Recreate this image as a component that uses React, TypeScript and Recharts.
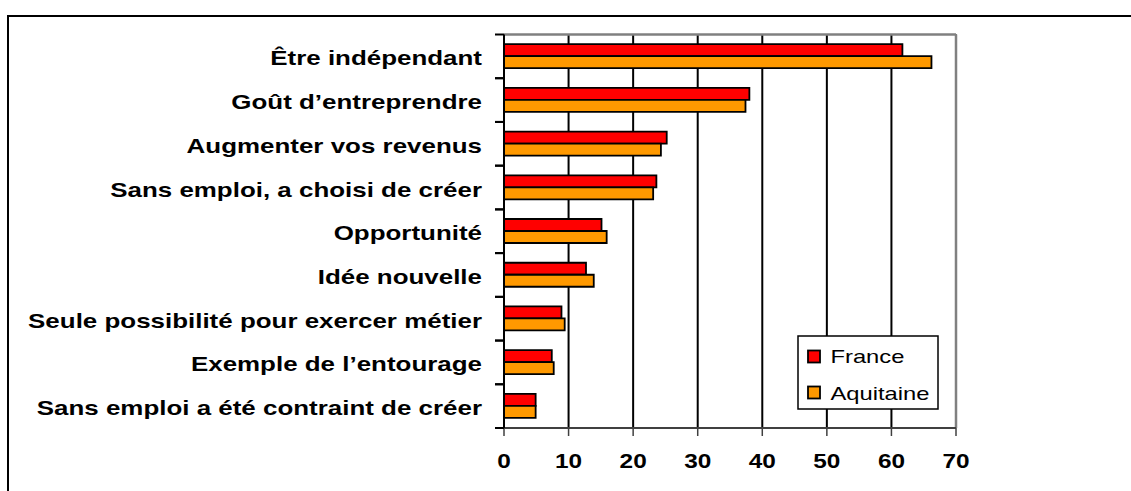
import React from 'react';
import { BarChart, Bar, XAxis, YAxis, CartesianGrid, Legend } from 'recharts';

const categories = [
  'Être indépendant',
  'Goût d’entreprendre',
  'Augmenter vos revenus',
  'Sans emploi, a choisi de créer',
  'Opportunité',
  'Idée nouvelle',
  'Seule possibilité pour exercer métier',
  'Exemple de l’entourage',
  'Sans emploi a été contraint de créer',
];
const franceValues = [61.7, 38, 25.2, 23.6, 15.1, 12.7, 8.9, 7.4, 4.9];
const aquitaineValues = [66.2, 37.4, 24.3, 23.1, 15.9, 13.9, 9.4, 7.7, 4.9];
const xTicks = [0, 10, 20, 30, 40, 50, 60, 70];
const seriesNames = ['France', 'Aquitaine'];

const data = categories.map((name, i) => ({
  name,
  france: franceValues[i],
  aquitaine: aquitaineValues[i],
}));

const FONT = '"Liberation Sans", Arial, sans-serif';
const RED = '#FF0000';
const ORANGE = '#FF9900';

const YTick = (props: any) => {
  const { x, y, payload } = props;
  const off = payload && typeof payload.offset === 'number' && payload.offset > 0 ? payload.offset : 21.9;
  return (
    <g>
      <line x1={x - 9} x2={x} y1={y - off} y2={y - off} stroke="#000" strokeWidth={2} />
      <line x1={x - 9} x2={x} y1={y + off} y2={y + off} stroke="#000" strokeWidth={2} />
      <g transform={`translate(${x - 22},${y + 9}) scale(1.33,1)`}>
        <text x={0} y={0} textAnchor="end" fontFamily={FONT} fontWeight="bold" fontSize={19.5} fill="#000">
          {payload.value}
        </text>
      </g>
    </g>
  );
};

const XTick = (props: any) => {
  const { x, y, payload } = props;
  return (
    <g transform={`translate(${x},${y + 32}) scale(1.25,1)`}>
      <text x={0} y={0} textAnchor="middle" fontFamily={FONT} fontWeight="bold" fontSize={19.5} fill="#000">
        {payload.value}
      </text>
    </g>
  );
};

const LegendBox = () => (
  <svg width={142} height={75} style={{ display: 'block' }}>
    <rect x={1} y={1} width={140} height={73} fill="#fff" stroke="#000" strokeWidth={1.5} />
    <rect x={11} y={15.5} width={12} height={12} fill={RED} stroke="#000" strokeWidth={1.8} />
    <rect x={11} y={51.5} width={12} height={12} fill={ORANGE} stroke="#000" strokeWidth={1.8} />
    <g transform="translate(33.5,28.3) scale(1.25,1)">
      <text x={0} y={0} fontFamily={FONT} fontSize={19} fill="#000">{seriesNames[0]}</text>
    </g>
    <g transform="translate(33.5,65) scale(1.25,1)">
      <text x={0} y={0} fontFamily={FONT} fontSize={19} fill="#000">{seriesNames[1]}</text>
    </g>
  </svg>
);

export default function App() {
  return (
    <div
      style={{
        position: 'fixed',
        left: 0,
        top: 0,
        width: 1131,
        height: 491,
        overflow: 'hidden',
        background: '#fff',
      }}
    >
      <div
        style={{
          position: 'absolute',
          left: 7,
          top: 15,
          width: 1200,
          height: 600,
          borderTop: '2px solid #000',
          borderLeft: '2px solid #000',
          boxSizing: 'border-box',
        }}
      />
      <div style={{ position: 'absolute', left: 0, top: 0 }}>
        <BarChart
          width={1131}
          height={491}
          data={data}
          layout="vertical"
          margin={{ top: 34.5, right: 175, bottom: 23, left: 0 }}
          barCategoryGap="22%"
          barGap={0}
        >
          <CartesianGrid horizontal={false} vertical={true} stroke="#000" strokeWidth={2} />
          <CartesianGrid
            stroke="#808080"
            strokeWidth={2.5}
            verticalCoordinatesGenerator={({ offset }: any) => [offset.left + offset.width]}
            horizontalCoordinatesGenerator={({ offset }: any) => [offset.top]}
          />
          <XAxis
            type="number"
            domain={[0, 70]}
            ticks={xTicks}
            interval={0}
            height={40}
            axisLine={{ stroke: '#404040', strokeWidth: 2 }}
            tickLine={{ stroke: '#404040', strokeWidth: 1.5 }}
            tickSize={8}
            tickMargin={0}
            tick={<XTick />}
          />
          <YAxis
            type="category"
            dataKey="name"
            width={504}
            interval={0}
            axisLine={{ stroke: '#000', strokeWidth: 2 }}
            tickLine={false}
            tickSize={0}
            tickMargin={0}
            tick={<YTick />}
          />
          <Legend
            layout="vertical"
            align="center"
            verticalAlign="middle"
            wrapperStyle={{ position: 'absolute', left: 797, top: 335, width: 142, height: 75 }}
            content={() => <LegendBox />}
          />
          <Bar dataKey="france" name={seriesNames[0]} fill={RED} stroke="#000" strokeWidth={1.8} isAnimationActive={false} />
          <Bar dataKey="aquitaine" name={seriesNames[1]} fill={ORANGE} stroke="#000" strokeWidth={1.8} isAnimationActive={false} />
        </BarChart>
      </div>
    </div>
  );
}
